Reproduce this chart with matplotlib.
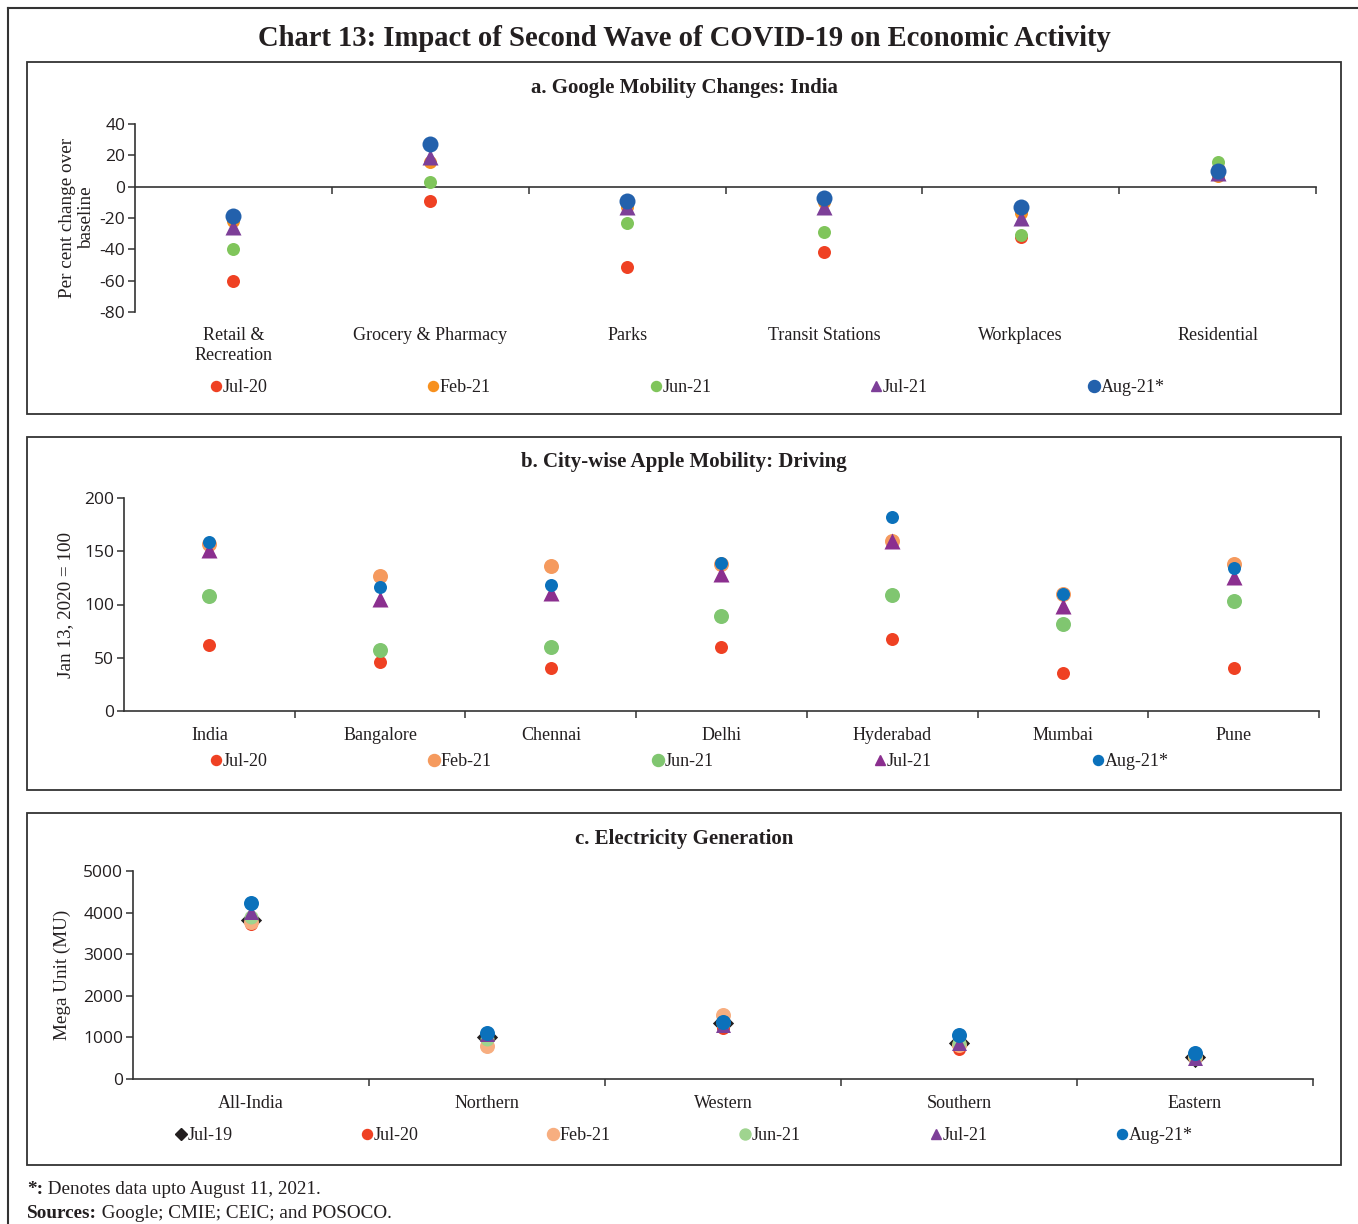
import numpy as np
import matplotlib.pyplot as plt
from matplotlib.lines import Line2D
from matplotlib.patches import Rectangle
from matplotlib.transforms import blended_transform_factory

# =========================================================
# Data
# =========================================================
mob_cats = ["Retail &\nRecreation", "Grocery & Pharmacy", "Parks",
            "Transit Stations", "Workplaces", "Residential"]
mob_jul20 = [-60, -9, -51, -42, -32, 12]
mob_feb21 = [-22, 16, -13, -10, -17, 7]
mob_jun21 = [-40, 3, -23, -29, -31, 16]
mob_jul21 = [-26, 19, -13, -13, -20, 9]
mob_aug21 = [-19, 27, -9, -7, -13, 10]

cities = ["India", "Bangalore", "Chennai", "Delhi", "Hyderabad", "Mumbai", "Pune"]
drv_jul20 = [62, 46, 40, 60, 68, 36, 40]
drv_feb21 = [157, 127, 136, 138, 160, 110, 138]
drv_jun21 = [108, 57, 60, 89, 109, 82, 103]
drv_jul21 = [151, 105, 111, 129, 160, 99, 126]
drv_aug21 = [159, 116, 118, 139, 182, 110, 134]

regions = ["All-India", "Northern", "Western", "Southern", "Eastern"]
el_jul19 = [3820, 1020, 1340, 870, 530]
el_jul20 = [3730, 1000, 1230, 720, 520]
el_feb21 = [3780, 790, 1530, 820, 540]
el_jun21 = [3900, 950, 1340, 870, 560]
el_jul21 = [4020, 1070, 1310, 870, 510]
el_aug21 = [4220, 1095, 1380, 1050, 620]

# =========================================================
# Figure setup (pixel based layout)
# =========================================================
plt.rcParams["axes.unicode_minus"] = False
W, H = 1358, 1224
fig = plt.figure(figsize=(W / 100, H / 100), dpi=100)
SERIF = "Liberation Serif"
SANS = "Open Sans"
TXT = "#231F20"
EDGE = "#333333"


def fx(px):
    return px / W


def fy(py):
    return 1 - py / H


def px2pt(d):
    return (d * 0.72) ** 2


# outer frame (top and left edges)
fig.add_artist(Line2D([fx(8), 1], [fy(8), fy(8)], transform=fig.transFigure, color=EDGE, lw=1.5))
fig.add_artist(Line2D([fx(8), fx(8)], [fy(8), 0], transform=fig.transFigure, color=EDGE, lw=1.5))

fig.text(fx(684), fy(39), "Chart 13: Impact of Second Wave of COVID-19 on Economic Activity",
         ha="center", va="center", fontsize=20.6, fontweight="bold", family=SERIF, color=TXT)

for top, bot in [(62, 414), (437, 790), (813, 1165)]:
    fig.add_artist(Rectangle((fx(27), fy(bot)), fx(1341) - fx(27), fy(top) - fy(bot),
                             transform=fig.transFigure, fill=False, ec=EDGE, lw=1.3))


def make_axes(l, t, r, b, ncat, ymin, ymax, step, title, title_y, ylabel, ylabel_x, cats, lab_y,
              zero_axis=False):
    ax = fig.add_axes([fx(l), fy(b), fx(r) - fx(l), fy(t) - fy(b)])
    ax.set_xlim(0, ncat)
    ax.set_ylim(ymin, ymax)
    ax.set_yticks(np.arange(ymin, ymax + 1, step))
    ax.set_xticks(np.arange(1, ncat + 1))
    ax.set_xticklabels([])
    for s in ["top", "right"]:
        ax.spines[s].set_visible(False)
    for s in ["left", "bottom"]:
        ax.spines[s].set_color(EDGE)
        ax.spines[s].set_linewidth(1.2)
    if zero_axis:
        ax.spines["bottom"].set_position(("data", 0))
    ax.tick_params(direction="out", length=5, width=1.1, color=EDGE, labelcolor=TXT)
    ax.tick_params(axis="y", labelsize=12.5, pad=2)
    for lab in ax.get_yticklabels():
        lab.set_family(SANS)
    trans = blended_transform_factory(ax.transData, fig.transFigure)
    for i, c in enumerate(cats):
        ax.text(i + 0.5, fy(lab_y), c, transform=trans, ha="center", va="top",
                fontsize=13, family=SERIF, color=TXT, linespacing=1.25)
    fig.text(fx(684), fy(title_y), title, ha="center", va="center", fontsize=15,
             fontweight="bold", family=SERIF, color=TXT)
    fig.text(fx(ylabel_x), (fy(t) + fy(b)) / 2, ylabel, rotation=90, ha="center", va="center",
             fontsize=13.8, family=SERIF, color=TXT, linespacing=1.15)
    return ax


def legend_row(y, items):
    for label, color, marker, x, d in items:
        fig.add_artist(Line2D([fx(x)], [fy(y)], transform=fig.transFigure, marker=marker,
                              color=color, markersize=d * 0.72, linestyle="none"))
        fig.text(fx(x + 7), fy(y + 1), label, ha="left", va="center", fontsize=13,
                 family=SERIF, color=TXT)


# =========================================================
# a. Google mobility
# =========================================================
ax = make_axes(135, 124, 1316, 312, len(mob_cats), -80, 40, 20,
               "a. Google Mobility Changes: India", 88,
               "Per cent change over\nbaseline", 77, mob_cats, 327, zero_axis=True)
xa = np.arange(len(mob_cats)) + 0.5
c_a = ["#EF4123", "#F7901E", "#80C55B", "#7D3F98", "#2361AC"]
ax.scatter(xa, mob_jul20, s=px2pt(13), color=c_a[0], marker="o", zorder=3, lw=0)
ax.scatter(xa, mob_feb21, s=px2pt(13), color=c_a[1], marker="o", zorder=3, lw=0)
ax.scatter(xa, mob_jun21, s=px2pt(13), color=c_a[2], marker="o", zorder=3, lw=0)
ax.scatter(xa, mob_jul21, s=px2pt(16), color=c_a[3], marker="^", zorder=3, lw=0)
ax.scatter(xa, mob_aug21, s=px2pt(16), color=c_a[4], marker="o", zorder=3, lw=0)
legend_row(386, [("Jul-20", c_a[0], "o", 216, 10), ("Feb-21", c_a[1], "o", 433, 10),
                 ("Jun-21", c_a[2], "o", 656, 10), ("Jul-21", c_a[3], "^", 876, 10),
                 ("Aug-21*", c_a[4], "o", 1094, 12)])

# =========================================================
# b. Apple mobility: driving
# =========================================================
ax = make_axes(124, 498, 1319, 711, len(cities), 0, 200, 50,
               "b. City-wise Apple Mobility: Driving", 462,
               "Jan 13, 2020 = 100", 66, cities, 727)
xb = np.arange(len(cities)) + 0.5
c_b = ["#EF4123", "#F59A5E", "#80C670", "#8B2F8F", "#0B71BB"]
ax.scatter(xb, drv_jul20, s=px2pt(13), color=c_b[0], marker="o", zorder=3, lw=0)
ax.scatter(xb, drv_feb21, s=px2pt(15), color=c_b[1], marker="o", zorder=3, lw=0)
ax.scatter(xb, drv_jun21, s=px2pt(15), color=c_b[2], marker="o", zorder=3, lw=0)
ax.scatter(xb, drv_jul21, s=px2pt(16), color=c_b[3], marker="^", zorder=3, lw=0)
ax.scatter(xb, drv_aug21, s=px2pt(13), color=c_b[4], marker="o", zorder=3, lw=0)
legend_row(760, [("Jul-20", c_b[0], "o", 216, 10), ("Feb-21", c_b[1], "o", 434, 12),
                 ("Jun-21", c_b[2], "o", 658, 12), ("Jul-21", c_b[3], "^", 880, 10),
                 ("Aug-21*", c_b[4], "o", 1098, 10)])

# =========================================================
# c. Electricity generation
# =========================================================
ax = make_axes(133, 871, 1313, 1079, len(regions), 0, 5000, 1000,
               "c. Electricity Generation", 839,
               "Mega Unit (MU)", 62, regions, 1095)
xc = np.arange(len(regions)) + 0.5
c_c = ["#231F20", "#EF4123", "#F7AE80", "#9FD48F", "#7D3F98", "#0B71BB"]
ax.scatter(xc, el_jul19, s=px2pt(15), color=c_c[0], marker="D", zorder=3, lw=0)
ax.scatter(xc, el_jul20, s=px2pt(13), color=c_c[1], marker="o", zorder=3, lw=0)
ax.scatter(xc, el_feb21, s=px2pt(15), color=c_c[2], marker="o", zorder=3, lw=0)
ax.scatter(xc, el_jun21, s=px2pt(14), color=c_c[3], marker="o", zorder=3, lw=0)
ax.scatter(xc, el_jul21, s=px2pt(15), color=c_c[4], marker="^", zorder=3, lw=0)
ax.scatter(xc, el_aug21, s=px2pt(15), color=c_c[5], marker="o", zorder=3, lw=0)
legend_row(1134, [("Jul-19", c_c[0], "D", 181, 8), ("Jul-20", c_c[1], "o", 367, 10),
                  ("Feb-21", c_c[2], "o", 553, 12), ("Jun-21", c_c[3], "o", 745, 11),
                  ("Jul-21", c_c[4], "^", 936, 10), ("Aug-21*", c_c[5], "o", 1122, 10)])

# =========================================================
# Notes
# =========================================================
renderer = fig.canvas.get_renderer()
for y, bold, rest in [(1189, "*:", " Denotes data upto August 11, 2021."),
                      (1213, "Sources:", " Google; CMIE; CEIC; and POSOCO.")]:
    t = fig.text(fx(27), fy(y), bold, ha="left", va="center", fontsize=13.8,
                 fontweight="bold", family=SERIF, color=TXT)
    bb = t.get_window_extent(renderer)
    fig.text(bb.x1 / W, fy(y), rest, ha="left", va="center", fontsize=13.8,
             family=SERIF, color=TXT)

fig.savefig("out.png", dpi=100)
